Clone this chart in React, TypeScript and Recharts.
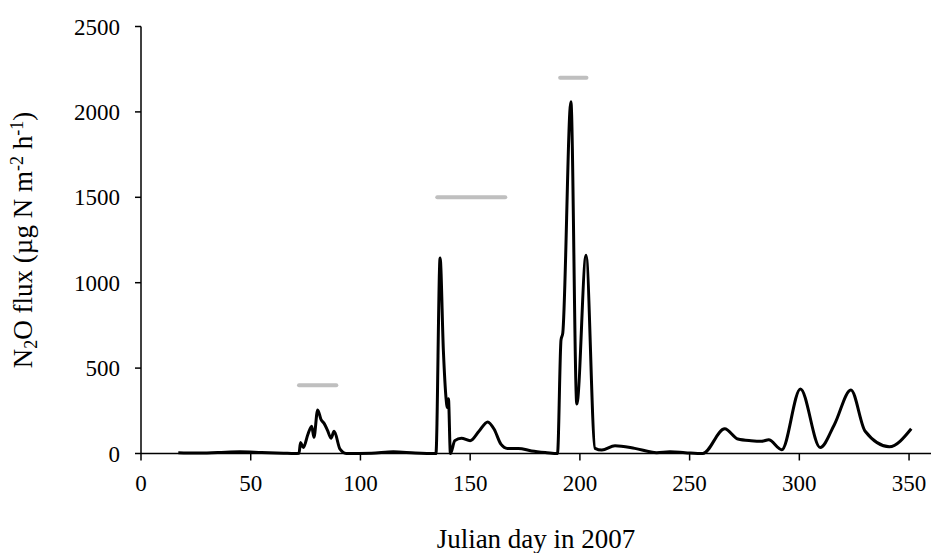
import { LineChart, Line, XAxis, YAxis, Label } from "recharts"

// Julian day and N2O flux (µg N m-2 h-1)
const DAYS = [
  17, 25, 35, 45, 55, 65, 70, 72, 72.7, 74, 76, 77.8, 78.8, 80.5, 82, 83.5, 85, 86.6, 88, 90.7,
  93.5, 105, 115, 125, 134.4, 136.3, 137.8, 139, 139.6, 140.1, 141, 143, 146, 150, 154, 158, 161,
  164, 167, 172, 178, 185, 189.8, 191.4, 192.2, 195.9, 198.6, 202.8, 206.9, 210, 216, 225, 235,
  241, 248, 256, 266, 272, 278, 283, 286, 292, 300.5, 309.5, 316, 323.5, 330, 341, 351,
]
const FLUX = [
  5, 3, 6, 10, 6, 2, 0, 2, 65, 35, 110, 160, 95, 255, 200, 175, 135, 90, 130, 25,
  0, 2, 10, 3, 0, 1145, 600, 325, 270, 320, 0, 75, 90, 75, 130, 185, 140,
  55, 30, 30, 15, 5, 0, 665, 705, 2060, 290, 1160, 30, 20, 45, 30, 5,
  10, 5, 0, 145, 85, 75, 72, 80, 22, 378, 35, 170, 372, 130, 40, 145,
]

// grey horizontal bars (period markers)
const BAR_FROM = [72, 135, 191]
const BAR_TO = [89, 166, 203]
const BAR_LEVEL = [400, 1500, 2200]

const X_TICKS = [0, 50, 100, 150, 200, 250, 300, 350]
const Y_TICKS = [0, 500, 1000, 1500, 2000, 2500]

const FONT = "'Liberation Serif', 'Times New Roman', serif"

// rotated y title with real sub/superscripts
function YTitle(props: any) {
  const vb = props.viewBox || { x: 0, y: 0, height: 0 }
  const x = vb.x + 32
  const y = vb.y + vb.height / 2
  return (
    <text
      x={x}
      y={y}
      transform={`rotate(-90, ${x}, ${y})`}
      textAnchor="middle"
      fontSize={27}
      fontFamily={FONT}
      fill="#000"
    >
      N<tspan dy={5} fontSize={18}>2</tspan>
      <tspan dy={-5}>O flux (µg N m</tspan>
      <tspan dy={-9} fontSize={18}>-2</tspan>
      <tspan dy={9}> h</tspan>
      <tspan dy={-9} fontSize={18}>-1</tspan>
      <tspan dy={9}>)</tspan>
    </text>
  )
}

export default function App() {
  const rows = DAYS.map((d, i) => ({ day: d, flux: FLUX[i] }))
  const bars = BAR_FROM.map((from, i) => [
    { day: from, level: BAR_LEVEL[i] },
    { day: BAR_TO[i], level: BAR_LEVEL[i] },
  ])

  const tick = { fontSize: 23, fill: "#000", fontFamily: FONT }

  return (
    <div style={{ position: "absolute", left: 0, top: 0, background: "#fff" }}>
      <LineChart width={931} height={553} data={rows} margin={{ top: 26.5, right: 0, bottom: 0, left: 0 }}>
        <XAxis
          type="number"
          dataKey="day"
          domain={[0, 360]}
          ticks={X_TICKS}
          height={99.5}
          tick={tick}
          tickSize={7}
          tickMargin={14}
          axisLine={{ stroke: "#000", strokeWidth: 1.5 }}
          tickLine={{ stroke: "#000", strokeWidth: 1.5 }}
          label={{
            value: "Julian day in 2007",
            position: "insideBottom",
            offset: 5,
            style: { fontSize: 27, fill: "#000", fontFamily: FONT },
          }}
        />
        <YAxis
          type="number"
          domain={[0, 2500]}
          ticks={Y_TICKS}
          width={141}
          tick={tick}
          tickSize={6}
          tickMargin={15}
          axisLine={{ stroke: "#000", strokeWidth: 1.5 }}
          tickLine={{ stroke: "#000", strokeWidth: 1.5 }}
        >
          <Label content={<YTitle />} />
        </YAxis>
        {bars.map((b, i) => (
          <Line
            key={i}
            data={b}
            dataKey="level"
            type="linear"
            stroke="#bfbfbf"
            strokeWidth={4}
            strokeLinecap="round"
            dot={false}
            activeDot={false}
            isAnimationActive={false}
          />
        ))}
        <Line
          dataKey="flux"
          type="monotone"
          stroke="#000"
          strokeWidth={3}
          dot={false}
          activeDot={false}
          isAnimationActive={false}
        />
      </LineChart>
    </div>
  )
}
